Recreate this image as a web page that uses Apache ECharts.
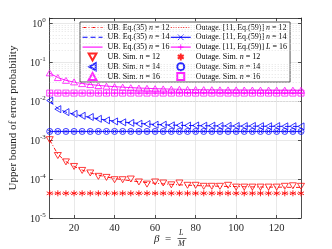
<!DOCTYPE html>
<html><head><meta charset="utf-8">
<script src="https://cdn.jsdelivr.net/npm/echarts@6/dist/echarts.min.js"></script>
<style>html,body{margin:0;padding:0;background:#fff}#c{width:332px;height:249px}</style>
</head><body><div id="c"></div>
<script>
var beta = [8,12,16,20,24,28,32,36,40,44,48,52,56,60,64,68,72,76,80,84,88,92,96,100,104,108,112,116,120,124,128,132];
var ubEq12 = [1.0e-3,4.3e-4,2.8e-4,2.1e-4,1.7e-4,1.44e-4,1.26e-4,1.13e-4,1.03e-4,9.6e-5,9.0e-5,8.5e-5,8.1e-5,7.8e-5,7.5e-5,7.3e-5,7.1e-5,6.95e-5,6.8e-5,6.7e-5,6.6e-5,6.5e-5,6.45e-5,6.4e-5,6.35e-5,6.3e-5,6.25e-5,6.2e-5,6.2e-5,6.15e-5,6.1e-5,6.1e-5];
var ubEq14 = [1.0e-2,6.4e-3,5.2e-3,4.6e-3,4.15e-3,3.8e-3,3.5e-3,3.25e-3,3.05e-3,2.9e-3,2.78e-3,2.67e-3,2.58e-3,2.51e-3,2.46e-3,2.42e-3,2.39e-3,2.36e-3,2.34e-3,2.32e-3,2.31e-3,2.3e-3,2.29e-3,2.28e-3,2.27e-3,2.27e-3,2.26e-3,2.25e-3,2.25e-3,2.24e-3,2.24e-3,2.23e-3];
var ubEq16 = [5.2e-2,4.0e-2,3.4e-2,3.05e-2,2.82e-2,2.65e-2,2.52e-2,2.42e-2,2.34e-2,2.27e-2,2.21e-2,2.16e-2,2.12e-2,2.08e-2,2.05e-2,2.02e-2,2.0e-2,1.98e-2,1.97e-2,1.96e-2,1.95e-2,1.94e-2,1.93e-2,1.93e-2,1.92e-2,1.92e-2,1.91e-2,1.91e-2,1.9e-2,1.9e-2,1.9e-2,1.89e-2];
var ubSim12 = [1.02e-3,4.0e-4,2.75e-4,2.1e-4,1.66e-4,1.43e-4,1.17e-4,1.1e-4,9.6e-5,9.6e-5,1.0e-4,8.4e-5,7.4e-5,8.4e-5,7.9e-5,7.1e-5,7.9e-5,6.9e-5,6.9e-5,6.5e-5,6.5e-5,6.5e-5,6.9e-5,6.2e-5,6.2e-5,6.2e-5,6.2e-5,6.2e-5,6.2e-5,6.5e-5,6.7e-5,6.5e-5];
var ubSim14 = [1.03e-2,6.2e-3,5.2e-3,4.7e-3,4.2e-3,3.9e-3,3.5e-3,3.2e-3,3.0e-3,2.85e-3,2.75e-3,2.62e-3,2.57e-3,2.47e-3,2.47e-3,2.38e-3,2.38e-3,2.35e-3,2.36e-3,2.33e-3,2.34e-3,2.3e-3,2.32e-3,2.3e-3,2.28e-3,2.3e-3,2.27e-3,2.26e-3,2.28e-3,2.25e-3,2.26e-3,2.24e-3];
var ubSim16 = [5.3e-2,4.0e-2,3.4e-2,3.1e-2,2.8e-2,2.65e-2,2.5e-2,2.4e-2,2.33e-2,2.27e-2,2.2e-2,2.15e-2,2.12e-2,2.08e-2,2.05e-2,2.02e-2,2.0e-2,1.98e-2,1.97e-2,1.96e-2,1.95e-2,1.94e-2,1.93e-2,1.93e-2,1.92e-2,1.92e-2,1.91e-2,1.91e-2,1.9e-2,1.9e-2,1.9e-2,1.89e-2];
var outEq12 = [4.3e-5,4.3e-5,4.3e-5,4.3e-5,4.3e-5,4.3e-5,4.3e-5,4.3e-5,4.3e-5,4.3e-5,4.3e-5,4.3e-5,4.3e-5,4.3e-5,4.3e-5,4.3e-5,4.3e-5,4.3e-5,4.3e-5,4.3e-5,4.3e-5,4.3e-5,4.3e-5,4.3e-5,4.3e-5,4.3e-5,4.3e-5,4.3e-5,4.3e-5,4.3e-5,4.3e-5,4.3e-5];
var outEq14 = [1.66e-3,1.66e-3,1.66e-3,1.66e-3,1.66e-3,1.66e-3,1.66e-3,1.66e-3,1.66e-3,1.66e-3,1.66e-3,1.66e-3,1.66e-3,1.66e-3,1.66e-3,1.66e-3,1.66e-3,1.66e-3,1.66e-3,1.66e-3,1.66e-3,1.66e-3,1.66e-3,1.66e-3,1.66e-3,1.66e-3,1.66e-3,1.66e-3,1.66e-3,1.66e-3,1.66e-3,1.66e-3];
var outEq16 = [1.6e-2,1.6e-2,1.6e-2,1.6e-2,1.6e-2,1.6e-2,1.6e-2,1.6e-2,1.6e-2,1.6e-2,1.6e-2,1.6e-2,1.6e-2,1.6e-2,1.6e-2,1.6e-2,1.6e-2,1.6e-2,1.6e-2,1.6e-2,1.6e-2,1.6e-2,1.6e-2,1.6e-2,1.6e-2,1.6e-2,1.6e-2,1.6e-2,1.6e-2,1.6e-2,1.6e-2,1.6e-2];
var outSim12 = [4.3e-5,4.3e-5,4.3e-5,4.3e-5,4.3e-5,4.3e-5,4.3e-5,4.3e-5,4.3e-5,4.3e-5,4.3e-5,4.3e-5,4.3e-5,4.3e-5,4.3e-5,4.3e-5,4.3e-5,4.3e-5,4.3e-5,4.3e-5,4.3e-5,4.3e-5,4.3e-5,4.3e-5,4.3e-5,4.3e-5,4.3e-5,4.3e-5,4.3e-5,4.3e-5,4.3e-5,4.3e-5];
var outSim14 = [1.66e-3,1.66e-3,1.66e-3,1.66e-3,1.66e-3,1.66e-3,1.66e-3,1.66e-3,1.66e-3,1.66e-3,1.66e-3,1.66e-3,1.66e-3,1.66e-3,1.66e-3,1.66e-3,1.66e-3,1.66e-3,1.66e-3,1.66e-3,1.66e-3,1.66e-3,1.66e-3,1.66e-3,1.66e-3,1.66e-3,1.66e-3,1.66e-3,1.66e-3,1.66e-3,1.66e-3,1.66e-3];
var outSim16 = [1.6e-2,1.6e-2,1.6e-2,1.6e-2,1.6e-2,1.6e-2,1.6e-2,1.6e-2,1.6e-2,1.6e-2,1.6e-2,1.6e-2,1.6e-2,1.6e-2,1.6e-2,1.6e-2,1.6e-2,1.6e-2,1.6e-2,1.6e-2,1.6e-2,1.6e-2,1.6e-2,1.6e-2,1.6e-2,1.6e-2,1.6e-2,1.6e-2,1.6e-2,1.6e-2,1.6e-2,1.6e-2];
var names = ['UB. Eq.(35) n = 12','UB. Eq.(35) n = 14','UB. Eq.(35) n = 16','UB. Sim. n = 12','UB. Sim. n = 14','UB. Sim. n = 16',
  'Outage. [11, Eq.(59)] n = 12','Outage. [11, Eq.(59)] n = 14','Outage. [11, Eq.(59)] L = 16','Outage. Sim. n = 12','Outage. Sim. n = 14','Outage. Sim. n = 16'];

function pairs(ys){ return beta.map(function(b,i){ return [b, ys[i]]; }); }
var FONT = 'Liberation Serif';
var RED='#ff0000', BLUE='#0000ff', MAG='#ff00ff';
var triDown='path://M0,0L10,0L5,9Z', triLeft='path://M9,0L9,10L0,5Z', triUp='path://M5,0L10,9L0,9Z';
var square='path://M0,0L10,0L10,10L0,10Z';
var aster='path://M5,0L5,10M0.7,2.5L9.3,7.5M0.7,7.5L9.3,2.5';
var xMark='path://M0,0L10,10M0,10L10,0', plusMark='path://M5,0L5,10M0,5L10,5';
var DASHDOT=[4,2,1,2], DASH=[5,3], DOT=[1,1.5];

var minor=[];
for (var d=-5; d<0; d++) for (var m=2; m<10; m++) minor.push({yAxis: m*Math.pow(10,d)});

function lineS(name, ys, color, type, extra){
  var s = {name:name, type:'line', data:pairs(ys), symbol:'none', lineStyle:{color:color, width:0.9, type:type}, itemStyle:{color:color}, z:2};
  for (var k in extra) s[k]=extra[k];
  return s;
}
function scat(name, ys, color, symbol, size){
  return {name:name, type:'scatter', data:pairs(ys), symbol:symbol, symbolSize:size,
    itemStyle:{color:'rgba(255,255,255,0)', borderColor:color, borderWidth:0.9, opacity:0.85}, z:3};
}
var series = [
  lineS(names[0], ubEq12, RED, DASHDOT, {markLine:{silent:true, symbol:['none','none'], label:{show:false}, animation:false,
      lineStyle:{type:[1,2], color:'#d8d8d8', width:0.7}, data:minor}}),
  lineS(names[1], ubEq14, BLUE, DASH),
  lineS(names[2], ubEq16, MAG, 'solid'),
  lineS(names[6], outEq12, RED, DOT),
  lineS(names[7], outEq14, BLUE, 'solid', {symbol:xMark, symbolSize:3, showSymbol:true, itemStyle:{color:BLUE, borderColor:BLUE, borderWidth:0.8}}),
  lineS(names[8], outEq16, MAG, 'solid', {symbol:plusMark, symbolSize:4, showSymbol:true, itemStyle:{color:MAG, borderColor:MAG, borderWidth:0.8}}),
  scat(names[3], ubSim12, RED, triDown, [7,6]),
  scat(names[4], ubSim14, BLUE, triLeft, [6,7]),
  scat(names[5], ubSim16, MAG, triUp, [7,6]),
  {name:names[9], type:'scatter', data:pairs(outSim12), symbol:aster, symbolSize:[6,6],
    itemStyle:{color:RED, borderColor:RED, borderWidth:1, opacity:0.85}, z:3},
  scat(names[10], outSim14, BLUE, 'circle', 6),
  scat(names[11], outSim16, MAG, square, 6)
];

var hideSym = {color:'rgba(0,0,0,0)', borderColor:'rgba(0,0,0,0)', borderWidth:0};
var legendLines = {0:[RED,DASHDOT], 1:[BLUE,DASH], 2:[MAG,'solid'], 6:[RED,DOT], 7:[BLUE,'solid'], 8:[MAG,'solid']};
var legendData = names.map(function(n, i){
  var ls = legendLines[i];
  if (!ls) return {name:n};
  var item = {name:n, lineStyle:{color:ls[0], type:ls[1], width:1.1}};
  if (i===0 || i===1 || i===2 || i===6) item.itemStyle = hideSym;
  else item.itemStyle = {color:ls[0], borderColor:ls[0], borderWidth:0.8};
  return item;
});

var chart = echarts.init(document.getElementById('c'), null, {renderer:'canvas'});
var axisLineStyle = {color:'#262626', width:0.8};
chart.setOption({
  animation:false,
  backgroundColor:'#fff',
  grid:{left:43, right:31, top:18, bottom:31},
  xAxis:[{type:'value', min:8, max:132, position:'bottom',
      axisLine:{show:true, lineStyle:axisLineStyle}, axisTick:{inside:true, length:3, lineStyle:axisLineStyle},
      axisLabel:{color:'#262626', fontFamily:FONT, fontSize:10.5, margin:5, showMinLabel:false, showMaxLabel:false,
        formatter:function(v){ return (v%20===0)? String(v):''; }},
      splitLine:{show:true, lineStyle:{color:'#e3e3e3', width:0.8}}},
    {type:'value', min:8, max:132, position:'top', axisLine:{show:true, lineStyle:axisLineStyle},
      axisTick:{inside:true, length:3, lineStyle:axisLineStyle}, axisLabel:{show:false}, splitLine:{show:false}}],
  yAxis:[{type:'log', min:1e-5, max:1.35, position:'left',
      name:'Upper bound of error probability', nameLocation:'middle', nameGap:30, nameRotate:90,
      nameTextStyle:{fontFamily:FONT, fontSize:11, color:'#262626'},
      axisLine:{show:true, lineStyle:axisLineStyle}, axisTick:{inside:true, length:3, lineStyle:axisLineStyle},
      axisLabel:{margin:4, color:'#262626', formatter:function(v){
          var e=Math.log(v)/Math.LN10, r=Math.round(e);
          if (Math.abs(e-r)>1e-6) return '';
          return '{b|10}{s|'+r+'}';
        }, rich:{b:{fontFamily:FONT, fontSize:10, lineHeight:12, verticalAlign:'bottom'}, s:{fontFamily:FONT, fontSize:7, lineHeight:7, verticalAlign:'top'}}},
      splitLine:{show:true, lineStyle:{color:'#e3e3e3', width:0.8}}},
    {type:'log', min:1e-5, max:1.35, position:'right', axisLine:{show:true, lineStyle:axisLineStyle},
      axisTick:{inside:true, length:3, lineStyle:axisLineStyle}, axisLabel:{show:false}, splitLine:{show:false}}],
  legend:{orient:'vertical', left:80, top:22, height:62, data:legendData,
    backgroundColor:'#fff', borderColor:'#262626', borderWidth:0.8, padding:[1,3,1,2],
    itemWidth:20, itemHeight:7, itemGap:0.8,
    textStyle:{fontFamily:FONT, fontSize:8, color:'#000', lineHeight:9,
      rich:{i:{fontFamily:FONT, fontSize:8, fontStyle:'italic', lineHeight:9}}},
    formatter:function(n){ return n.replace(' n = ',' {i|n} = ').replace(' L = ',' {i|L} = '); }},
  graphic:[
    {type:'text', left:154, top:234, style:{text:'β', font:'italic 11px "Liberation Serif"', fill:'#262626'}},
    {type:'text', left:165, top:234, style:{text:'=', font:'11px "Liberation Serif"', fill:'#262626'}},
    {type:'text', left:179, top:229, style:{text:'L', font:'italic 8px "Liberation Serif"', fill:'#262626'}},
    {type:'line', shape:{x1:177.5, y1:238.5, x2:186.5, y2:238.5}, style:{stroke:'#262626', lineWidth:0.7}},
    {type:'text', left:178, top:240, style:{text:'M', font:'italic 8px "Liberation Serif"', fill:'#262626'}}
  ],
  series:series
});
</script></body></html>
